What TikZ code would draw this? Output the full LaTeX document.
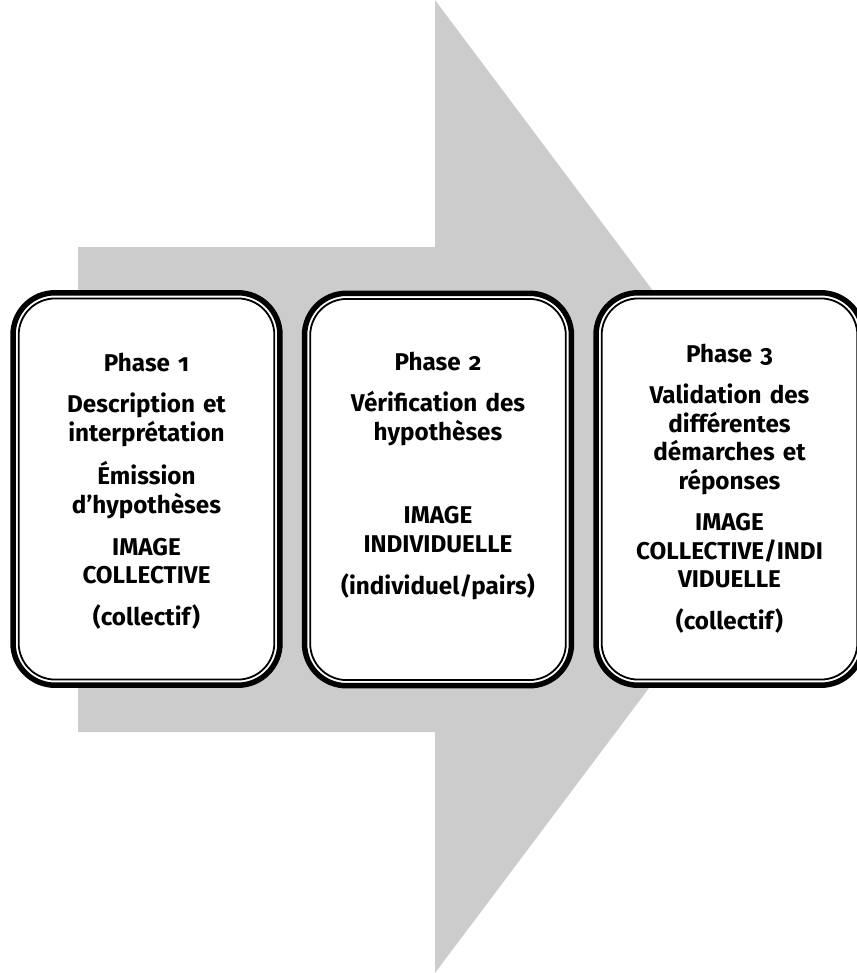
\documentclass[tikz,border=0pt]{standalone}
\usepackage{fontspec}
\setmainfont{Fira Sans}[Numbers=OldStyle]
\definecolor{arrowgray}{RGB}{204,204,204}
\begin{document}
\begin{tikzpicture}[x=0.02cm,y=-0.02cm,
  phasebox/.style={draw=black,fill=white,line width=0.11cm,rounded corners=0.84cm,
    minimum width=5.34cm,minimum height=7.85cm,outer sep=0pt,inner sep=0pt},
  innerline/.style={draw=black,line width=0.036cm,rounded corners=0.73cm},
  phasetext/.style={anchor=base,text width=5.0cm,align=center,inner sep=0pt,
    font=\bfseries\fontsize{13.8pt}{16.16pt}\selectfont}]
\useasboundingbox (0,0) rectangle (857,973);
\clip (0,0) rectangle (857,973);
% big gray arrow
\fill[arrowgray] (78,247) -- (435,247) -- (435,0) -- (800,487) -- (435,973) -- (435,732) -- (78,732) -- cycle;
% boxes
\node[phasebox] (b1) at (146.5,489) {};
\node[phasebox] (b2) at (438,489.5) {};
\node[phasebox] (b3) at (729.5,489) {};
\foreach \b in {b1,b2,b3}{
  \draw[innerline] ([shift={(0.113cm,0.113cm)}]\b.south west) rectangle ([shift={(-0.113cm,-0.113cm)}]\b.north east);
}
% texts
\node[phasetext] (t1) at (146.5,371) {Phase 1\\[7.65pt]
Description et\\ interprétation\\[7.65pt]
Émission\\ d’hypothèses\\[7.65pt]
IMAGE\\ COLLECTIVE\\[7.65pt]
(collectif)};
\node[phasetext] (t2) at (438,370) {Phase 2\\[7.65pt]
Vérification des\\ hypothèses\\[7.65pt]
\mbox{}\\[7.65pt]
IMAGE\\ INDIVIDUELLE\\[7.65pt]
(individuel/pairs)};
\node[phasetext] (t3) at (729.5,362) {Phase 3\\[7.65pt]
Validation des\\ différentes\\ démarches et\\ réponses\\[7.65pt]
IMAGE\\ COLLECTIVE/INDI\\ VIDUELLE\\[7.65pt]
(collectif)};
\end{tikzpicture}
\end{document}
